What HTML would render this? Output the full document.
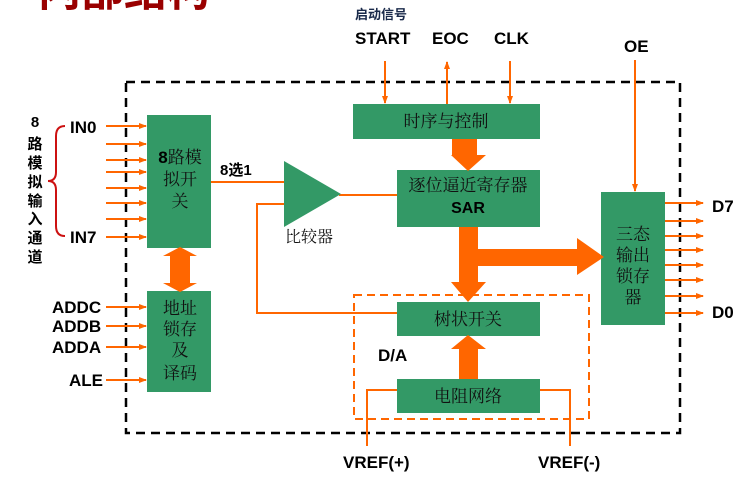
<!DOCTYPE html>
<html><head><meta charset="utf-8"><style>
html,body{margin:0;padding:0;background:#fff;}
svg{display:block;}
text{font-family:"Liberation Sans","Noto Sans CJK SC",sans-serif;}
.b{font-weight:bold;font-size:17px;fill:#000;}
.g{fill:#339966;}
.c{font-family:"Noto Serif CJK SC","Noto Sans CJK SC",serif;font-size:16px;fill:#111;}
.d{font-family:"Noto Serif CJK SC","Noto Sans CJK SC",serif;font-size:17px;fill:#111;}
</style></head><body>
<svg width="754" height="487" viewBox="0 0 754 487" xmlns="http://www.w3.org/2000/svg">
<defs>
<marker id="a" markerWidth="8" markerHeight="8" refX="7" refY="4" orient="auto" markerUnits="userSpaceOnUse"><path d="M0,1 L8,4 L0,7 Z" fill="#ff6600"/></marker>
</defs>
<text x="38" y="6" font-size="43" font-weight="bold" fill="#990000" font-family="Noto Sans CJK SC,sans-serif">内部结构</text>

<rect x="126" y="82" width="554" height="351" fill="none" stroke="#000" stroke-width="2.5" stroke-dasharray="9,6"/>
<rect x="354" y="295" width="235" height="124" fill="none" stroke="#ff6600" stroke-width="2" stroke-dasharray="8,5"/>

<text x="355" y="19" font-size="13" font-weight="bold" fill="#1a2a4a" font-family="Noto Sans CJK SC,sans-serif">启动信号</text>
<text x="355" y="44" class="b">START</text>
<text x="432" y="44" class="b">EOC</text>
<text x="494" y="44" class="b">CLK</text>
<text x="624" y="52" class="b">OE</text>
<g stroke="#ff6600" stroke-width="2" fill="none">
<line x1="385" y1="61" x2="385" y2="103" marker-end="url(#a)"/>
<line x1="447" y1="104" x2="447" y2="62" marker-end="url(#a)"/>
<line x1="510" y1="61" x2="510" y2="103" marker-end="url(#a)"/>
<line x1="635" y1="60" x2="635" y2="191" marker-end="url(#a)"/>
<line x1="106" y1="126" x2="146" y2="126" marker-end="url(#a)"/>
<line x1="106" y1="144" x2="146" y2="144" marker-end="url(#a)"/>
<line x1="106" y1="160" x2="146" y2="160" marker-end="url(#a)"/>
<line x1="106" y1="172" x2="146" y2="172" marker-end="url(#a)"/>
<line x1="106" y1="188" x2="146" y2="188" marker-end="url(#a)"/>
<line x1="106" y1="203" x2="146" y2="203" marker-end="url(#a)"/>
<line x1="106" y1="219" x2="146" y2="219" marker-end="url(#a)"/>
<line x1="106" y1="237" x2="146" y2="237" marker-end="url(#a)"/>
<line x1="106" y1="307" x2="146" y2="307" marker-end="url(#a)"/>
<line x1="106" y1="326" x2="146" y2="326" marker-end="url(#a)"/>
<line x1="106" y1="347" x2="146" y2="347" marker-end="url(#a)"/>
<line x1="106" y1="380" x2="146" y2="380" marker-end="url(#a)"/>
<line x1="665" y1="203" x2="703" y2="203" marker-end="url(#a)"/>
<line x1="665" y1="221" x2="703" y2="221" marker-end="url(#a)"/>
<line x1="665" y1="236" x2="703" y2="236" marker-end="url(#a)"/>
<line x1="665" y1="250" x2="703" y2="250" marker-end="url(#a)"/>
<line x1="665" y1="265" x2="703" y2="265" marker-end="url(#a)"/>
<line x1="665" y1="280" x2="703" y2="280" marker-end="url(#a)"/>
<line x1="665" y1="296" x2="703" y2="296" marker-end="url(#a)"/>
<line x1="665" y1="313" x2="703" y2="313" marker-end="url(#a)"/>
<line x1="211" y1="182" x2="289" y2="182"/>
<line x1="339" y1="195" x2="397" y2="195"/>
<polyline points="397,313 257,313 257,204 289,204"/>
<polyline points="397,390 367,390 367,446"/>
<polyline points="540,390 570,390 570,446"/>
</g>
<path d="M65,126 Q56,126 56,136 L56,172 Q56,181 48,181 Q56,181 56,190 L56,226 Q56,236 65,236" fill="none" stroke="#cc1111" stroke-width="2"/>
<g font-size="15" font-weight="bold" font-family="Noto Sans CJK SC,sans-serif" text-anchor="middle" fill="#000">
<text x="35" y="127">8</text><text x="35" y="149">路</text><text x="35" y="168">模</text><text x="35" y="187">拟</text><text x="35" y="206">输</text><text x="35" y="224">入</text><text x="35" y="243">通</text><text x="35" y="262">道</text>
</g>
<text x="70" y="133" class="b">IN0</text>
<text x="70" y="243" class="b">IN7</text>
<text x="52" y="313" class="b">ADDC</text>
<text x="52" y="332" class="b">ADDB</text>
<text x="52" y="353" class="b">ADDA</text>
<text x="69" y="386" class="b">ALE</text>
<text x="712" y="212" class="b">D7</text>
<text x="712" y="318" class="b">D0</text>
<text x="343" y="468" class="b">VREF(+)</text>
<text x="538" y="468" class="b">VREF(-)</text>
<text x="378" y="361" class="b">D/A</text>
<text x="220" y="175" font-size="15" font-weight="bold" font-family="Noto Sans CJK SC,sans-serif">8选1</text>
<text x="285" y="242" class="c">比较器</text>

<rect class="g" x="147" y="115" width="64" height="133"/>
<rect class="g" x="147" y="291" width="64" height="101"/>
<rect class="g" x="353" y="104" width="187" height="35"/>
<rect class="g" x="397" y="170" width="143" height="57"/>
<rect class="g" x="601" y="192" width="64" height="133"/>
<rect class="g" x="397" y="302" width="143" height="34"/>
<rect class="g" x="397" y="379" width="143" height="34"/>
<polygon class="g" points="284,161 341,194 284,227"/>

<g fill="#ff6600">
<polygon points="452,139 477,139 477,155 486,155 468,171 451,155 452,155"/>
<polygon points="459,227 478,227 478,249 577,249 577,238 604,257 577,275 577,266 478,266 478,282 486,282 468,302 451,282 459,282"/>
<polygon points="459,379 478,379 478,349 486,349 468,335 451,349 459,349"/>
<polygon points="170,256 163,256 180,247 197,256 190,256 190,283 197,283 180,292 163,283 170,283"/>
</g>

<g text-anchor="middle">
<text x="180" y="163" font-size="17" font-family="Noto Sans CJK SC,sans-serif"><tspan font-weight="bold">8</tspan><tspan class="d">路模</tspan></text>
<text x="180" y="185" class="d">拟开</text>
<text x="180" y="207" class="d">关</text>
<text x="180" y="314" class="d">地址</text>
<text x="180" y="335" class="d">锁存</text>
<text x="180" y="356" class="d">及</text>
<text x="180" y="379" class="d">译码</text>
<text x="446" y="127" class="d">时序与控制</text>
<text x="468" y="191" class="d">逐位逼近寄存器</text>
<text x="468" y="213" font-size="16" font-weight="bold">SAR</text>
<text x="633" y="240" class="d">三态</text>
<text x="633" y="261" class="d">输出</text>
<text x="633" y="282" class="d">锁存</text>
<text x="633" y="303" class="d">器</text>
<text x="468" y="325" class="d">树状开关</text>
<text x="468" y="402" class="d">电阻网络</text>
</g>
</svg>
</body></html>
